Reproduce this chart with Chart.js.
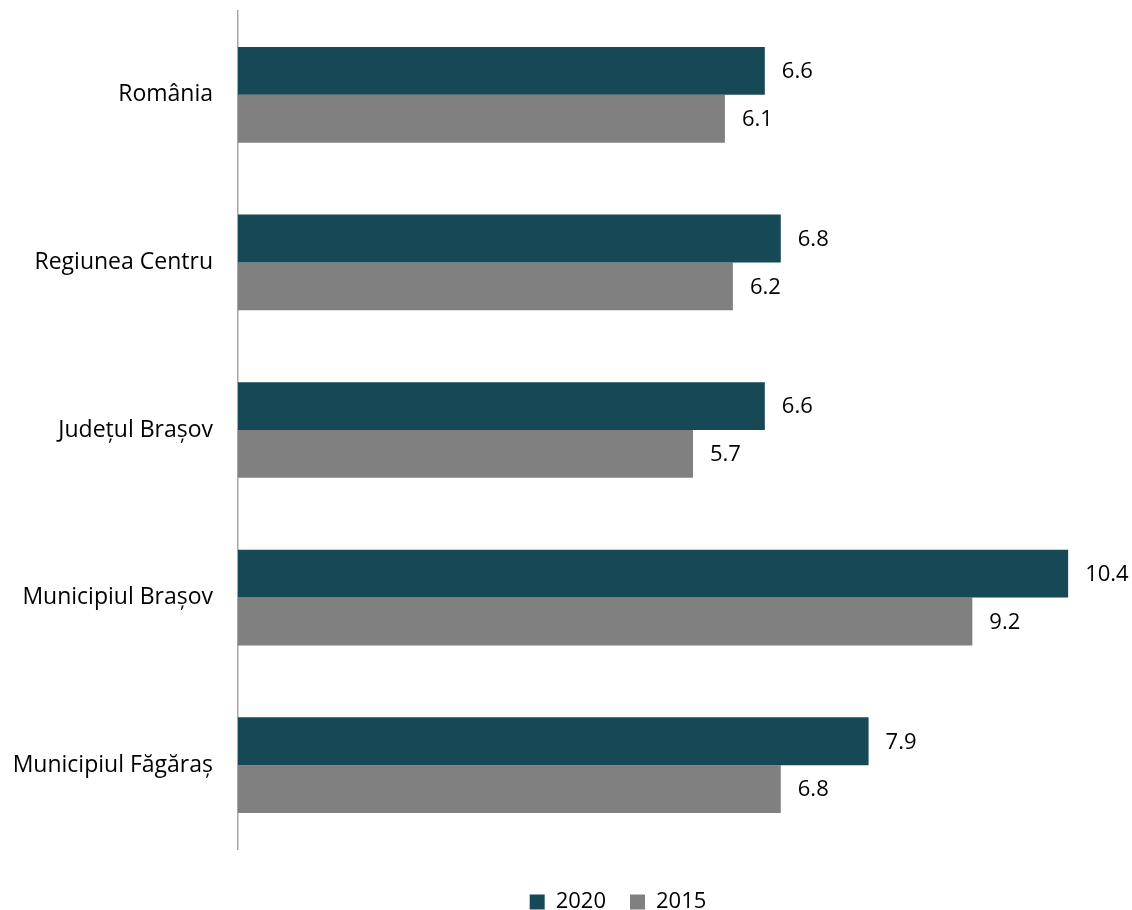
<!DOCTYPE html>
<html>
<head>
<meta charset="utf-8">
<script src="https://cdn.jsdelivr.net/npm/chart.js@4/dist/chart.umd.min.js"></script>
<style>
html,body{margin:0;padding:0;background:#fff;}
#wrap{width:1132px;height:910px;}
</style>
</head>
<body>
<div id="wrap"><canvas id="c" width="1132" height="910"></canvas></div>
<script>
const categories = ["România", "Regiunea Centru", "Județul Brașov", "Municipiul Brașov", "Municipiul Făgăraș"];
const values2020 = [6.6, 6.8, 6.6, 10.4, 7.9];
const values2015 = [6.1, 6.2, 5.7, 9.2, 6.8];
const seriesNames = ["2020", "2015"];

const FONT = "'Open Sans', 'Noto Sans', sans-serif";

const valueLabels = {
  id: 'valueLabels',
  afterDatasetsDraw(chart) {
    const ctx = chart.ctx;
    ctx.save();
    ctx.font = "22px " + FONT;
    ctx.fillStyle = '#000';
    ctx.textAlign = 'left';
    ctx.textBaseline = 'middle';
    chart.data.datasets.forEach((ds, di) => {
      const meta = chart.getDatasetMeta(di);
      meta.data.forEach((bar, i) => {
        ctx.fillText(ds.data[i].toFixed(1), bar.x + 17, bar.y + 1);
      });
    });
    ctx.restore();
  }
};

const legendFix = {
  id: 'legendFix',
  beforeLayout(chart) {
    const lg = chart.legend;
    if (lg && !lg._fixed) {
      const orig = lg.fit.bind(lg);
      lg.fit = function () { orig(); this.height = 61; };
      lg._fixed = true;
    }
  },
  afterLayout(chart) {
    const lg = chart.legend;
    if (!lg) return;
    const h = lg.bottom - lg.top;
    const w = lg.right - lg.left;
    lg.top = 910 - h + 18; lg.bottom = lg.top + h;
    lg.left = lg.left + 52; lg.right = lg.left + w;
  }
};

new Chart(document.getElementById('c'), {
  type: 'bar',
  data: {
    labels: categories,
    datasets: [
      { label: seriesNames[0], data: values2020, backgroundColor: '#174855', categoryPercentage: 0.571, barPercentage: 1.0 },
      { label: seriesNames[1], data: values2015, backgroundColor: '#808080', categoryPercentage: 0.571, barPercentage: 1.0 }
    ]
  },
  options: {
    indexAxis: 'y',
    responsive: false,
    animation: false,
    layout: { padding: { top: 11, right: 0, bottom: 0, left: 0 } },
    scales: {
      x: { display: false, min: 0, max: 11.2 },
      y: {
        grid: { display: false, drawTicks: false },
        border: { display: true, color: '#A6A6A6', width: 1.5 },
        ticks: { color: '#000', font: { family: FONT, size: 23 }, padding: 25 },
        afterFit(s) { s.width = 238; s.paddingTop = 0; s.paddingBottom = 0; }
      }
    },
    plugins: {
      legend: {
        position: 'bottom',
        labels: { color: '#000', font: { family: FONT, size: 22 }, boxWidth: 15, boxHeight: 15, padding: 24 }
      },
      tooltip: { enabled: false }
    }
  },
  plugins: [valueLabels, legendFix]
});
</script>
</body>
</html>
